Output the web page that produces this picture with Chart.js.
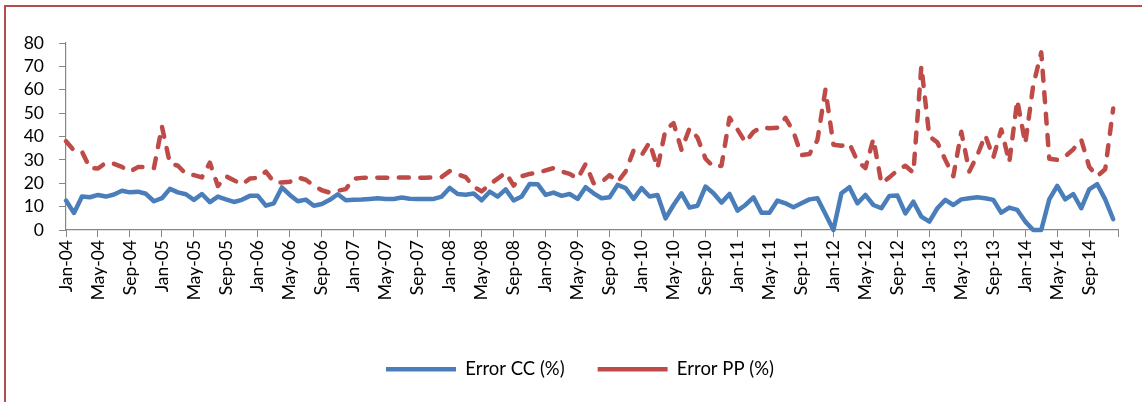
<!DOCTYPE html>
<html>
<head>
<meta charset="utf-8">
<script src="https://cdn.jsdelivr.net/npm/chart.js@4/dist/chart.umd.min.js"></script>
<style>
    html, body { margin: 0; padding: 0; background: #fff; }
    .wrap { position: relative; width: 1142px; height: 402px; overflow: hidden; background: #fff; }
    .frame { position: absolute; left: 4px; top: 5px; width: 1300px; height: 600px; border: 2px solid #b04f4c; }
    #chart { position: absolute; left: 0; top: 0; }
</style>
</head>
<body>
<div class="wrap">
    <div class="frame"></div>
    <canvas id="chart" width="1142" height="402"></canvas>
</div>
<script>
// monthly values, Jan-04 .. Dec-14 (one row per year)
const errorCC = [
    12.6, 7.3, 14.3, 14.0, 15.0, 14.3, 15.2, 16.8, 16.1, 16.4, 15.5, 12.3,
    13.6, 17.6, 16.1, 15.3, 12.9, 15.4, 11.9, 14.3, 13.1, 12.0, 12.9, 14.6,
    14.6, 10.4, 11.4, 18.2, 15.0, 12.3, 13.0, 10.4, 11.1, 12.9, 15.3, 12.7,
    12.9, 13.0, 13.3, 13.6, 13.3, 13.3, 13.9, 13.4, 13.3, 13.3, 13.3, 14.3,
    18.0, 15.4, 15.1, 15.6, 12.7, 16.4, 14.3, 17.4, 12.6, 14.3, 19.7, 19.6,
    15.0, 16.0, 14.6, 15.4, 13.3, 18.3, 15.7, 13.6, 14.0, 19.3, 17.9, 13.3,
    17.9, 14.3, 15.0, 5.0, 10.7, 15.7, 9.6, 10.4, 18.6, 15.7, 11.7, 15.4,
    8.3, 10.7, 14.0, 7.4, 7.4, 12.6, 11.4, 9.7, 11.4, 13.1, 13.6, 6.8,
    0.0, 15.7, 18.3, 11.4, 15.0, 10.7, 9.3, 14.6, 14.8, 7.1, 12.1, 5.7,
    3.6, 9.3, 12.9, 10.7, 13.1, 13.6, 14.0, 13.6, 12.9, 7.4, 9.6, 8.6,
    3.6, 0.0, 0.0, 13.1, 18.9, 13.1, 15.4, 9.3, 17.4, 19.6, 13.1, 4.6
]
const errorPP = [
    38.0, 34.0, 33.5, 26.5, 26.3, 28.8, 28.3, 27.0, 25.0, 26.9, 27.0, 26.5,
    44.3, 28.5, 27.5, 24.0, 23.5, 22.5, 28.8, 18.8, 23.0, 21.3, 19.5, 22.0,
    22.3, 25.0, 20.5, 20.3, 20.6, 22.5, 21.5, 19.0, 17.0, 16.0, 16.8, 17.5,
    22.0, 22.3, 22.5, 22.4, 22.3, 22.3, 22.5, 22.4, 22.3, 22.4, 22.5, 22.7,
    25.2, 23.8, 22.6, 18.5, 16.5, 19.5, 22.0, 24.5, 19.0, 23.0, 24.0, 24.5,
    25.5, 26.5, 25.0, 24.0, 22.0, 28.2, 20.0, 20.5, 23.5, 20.5, 25.0, 34.0,
    32.0, 37.5, 26.5, 43.0, 45.7, 34.3, 43.5, 39.5, 30.5, 27.0, 27.5, 48.0,
    43.0, 37.5, 42.0, 44.0, 43.5, 43.8, 48.0, 42.0, 32.0, 32.5, 38.5, 60.0,
    36.5, 36.0, 37.0, 29.5, 26.5, 39.0, 20.0, 22.5, 25.5, 27.5, 24.5, 70.0,
    40.0, 37.5, 30.0, 23.0, 42.0, 25.0, 32.0, 40.5, 31.0, 43.0, 29.0, 55.5,
    37.0, 62.0, 76.0, 30.5, 30.0, 31.5, 34.5, 38.6, 27.0, 23.0, 26.0, 52.0
]
// one label every 4 months
const tickLabels = [
    'Jan-04', 'May-04', 'Sep-04', 'Jan-05', 'May-05', 'Sep-05',
    'Jan-06', 'May-06', 'Sep-06', 'Jan-07', 'May-07', 'Sep-07',
    'Jan-08', 'May-08', 'Sep-08', 'Jan-09', 'May-09', 'Sep-09',
    'Jan-10', 'May-10', 'Sep-10', 'Jan-11', 'May-11', 'Sep-11',
    'Jan-12', 'May-12', 'Sep-12', 'Jan-13', 'May-13', 'Sep-13',
    'Jan-14', 'May-14', 'Sep-14'
]
const seriesNames = ['Error CC (%)', 'Error PP (%)']
const yTicks = [0, 10, 20, 30, 40, 50, 60, 70, 80]

const MONTHS_PER_TICK = 4
const X_END = 131.6          // axis ends just after the last month, like the original
const axisGrey = '#868686'

Chart.defaults.font.family = 'Lato, "Open Sans", sans-serif'
Chart.defaults.font.size = 17.5
Chart.defaults.color = '#000'

const toPoints = arr => arr.map((v, i) => ({ x: i, y: v }))

// the legend sits a little right of the canvas middle in the original
const legendShift = {
    id: 'legendShift',
    afterLayout(chart) {
        chart.legend.left += 8.5
        chart.legend.right += 8.5
    }
}

new Chart(document.getElementById('chart'), {
    type: 'line',
    data: {
        datasets: [
            {
                label: seriesNames[0],
                data: toPoints(errorCC),
                borderColor: '#4a7ebb',
                backgroundColor: '#4a7ebb',
                borderWidth: 4.5,
                borderCapStyle: 'round',
                borderJoinStyle: 'round',
                pointRadius: 0,
                order: 1,
                clip: false
            },
            {
                label: seriesNames[1],
                data: toPoints(errorPP),
                borderColor: '#be4b48',
                backgroundColor: '#be4b48',
                borderWidth: 4.5,
                borderDash: [10, 11.5],
                borderCapStyle: 'round',
                borderJoinStyle: 'round',
                pointRadius: 0,
                order: 0,
                clip: false
            }
        ]
    },
    options: {
        responsive: false,
        animation: false,
        layout: { padding: { left: 20, right: 19, top: 43, bottom: 13.5 } },
        plugins: {
            tooltip: { enabled: false },
            legend: {
                position: 'bottom',
                labels: {
                    usePointStyle: true,
                    pointStyle: 'line',
                    pointStyleWidth: 70,
                    padding: 33,
                    font: { size: 18.5 },
                    sort: (a, b) => a.datasetIndex - b.datasetIndex
                }
            }
        },
        scales: {
            x: {
                type: 'linear',
                min: 0,
                max: X_END,
                afterBuildTicks: scale => {
                    const ticks = tickLabels.map((_, k) => ({ value: k * MONTHS_PER_TICK }))
                    ticks.push({ value: X_END })
                    scale.ticks = ticks
                },
                afterFit: scale => { scale.height = 97 },
                ticks: {
                    autoSkip: false,
                    minRotation: 90,
                    maxRotation: 90,
                    padding: 3,
                    callback: value => tickLabels[value / MONTHS_PER_TICK] ?? ''
                },
                grid: { drawOnChartArea: false, drawTicks: true, tickLength: 7, color: axisGrey },
                border: { color: axisGrey, width: 1.2 }
            },
            y: {
                min: 0,
                max: 80,
                afterBuildTicks: scale => { scale.ticks = yTicks.map(v => ({ value: v })) },
                afterFit: scale => { scale.width = 46 },
                ticks: { autoSkip: false, padding: 15 },
                grid: { drawOnChartArea: false, drawTicks: true, tickLength: 7, color: axisGrey },
                border: { color: axisGrey, width: 1.2 }
            }
        }
    },
    plugins: [legendShift]
})
</script>
</body>
</html>
